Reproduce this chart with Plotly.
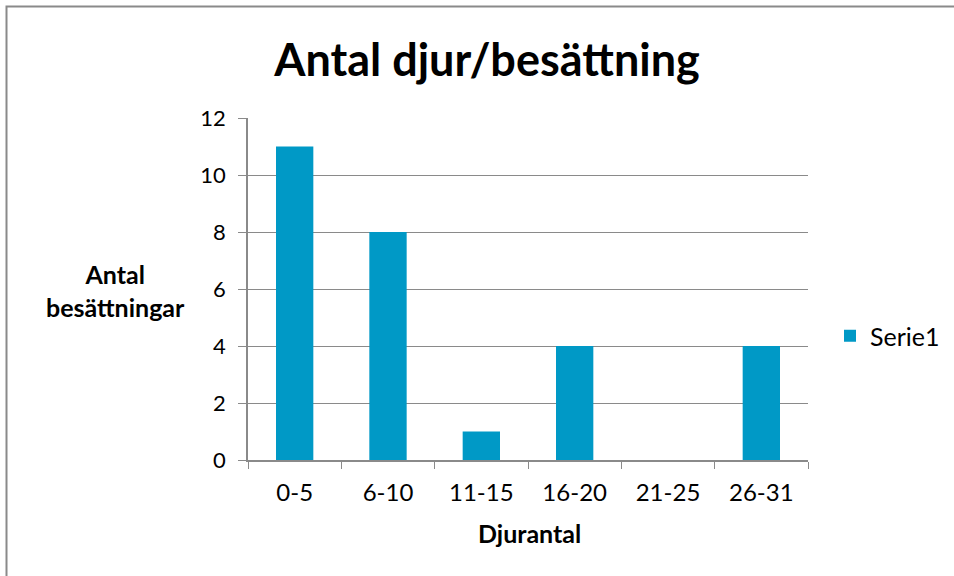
import plotly.graph_objects as go

categories = ["0-5", "6-10", "11-15", "16-20", "21-25", "26-31"]
values = [11, 8, 1, 4, 0, 4]
series_name = "Serie1"
title = "Antal djur/besättning"
y_title = "Antal<br>besättningar"
x_title = "Djurantal"

W, H = 954, 576
L, R, T, B = 248, 146, 118, 116
FONT = "Lato, Open Sans, sans-serif"
GRID = "#8a8a8a"

fig = go.Figure()
fig.add_trace(go.Bar(x=categories, y=values, name=series_name,
                     marker=dict(color="#0099C6", line=dict(width=0))))

pw = W - L - R
ph = H - T - B

fig.update_layout(
    width=W, height=H,
    margin=dict(l=L, r=R, t=T, b=B, autoexpand=False),
    paper_bgcolor="white", plot_bgcolor="white",
    bargap=0.6,
    font=dict(family=FONT, color="black"),
    showlegend=True,
    legend=dict(xref="container", yref="container",
                x=830 / W, y=1 - 336 / H, xanchor="left", yanchor="middle",
                font=dict(size=25, family=FONT), itemwidth=30,
                bgcolor="rgba(0,0,0,0)"),
    title=dict(text="<b>" + title + "</b>", x=487 / W, xanchor="center",
               y=1 - 60 / H, yanchor="middle", font=dict(size=45, family=FONT)),
)
fig.update_yaxes(range=[0, 12], dtick=2, showgrid=True, gridcolor=GRID, gridwidth=1.3,
                 showline=True, linecolor=GRID, linewidth=1.5,
                 ticks="outside", ticklen=8, tickcolor=GRID, tickwidth=1.3,
                 ticklabelstandoff=8,
                 tickfont=dict(size=22, family=FONT), zeroline=False, automargin=False)
fig.update_xaxes(showline=True, linecolor=GRID, linewidth=1.5,
                 ticks="outside", ticklen=7, tickcolor=GRID, tickwidth=1.3,
                 tickson="boundaries", showgrid=False, automargin=False,
                 ticklabelstandoff=10,
                 tickfont=dict(size=24, family=FONT))

fig.add_annotation(text="<b>" + y_title + "</b>", xref="paper", yref="paper",
                   x=(115 - L) / pw, y=(460 - 290) / ph, showarrow=False,
                   xanchor="center", yanchor="middle", align="center",
                   font=dict(size=25, family=FONT))
fig.add_annotation(text="<b>" + x_title + "</b>", xref="paper", yref="paper",
                   x=(529 - L) / pw, y=(460 - 533) / ph, showarrow=False,
                   xanchor="center", yanchor="middle",
                   font=dict(size=25, family=FONT))

# outer chart border (left and top visible; right/bottom run off the image)
fig.add_shape(type="rect", xref="paper", yref="paper",
              x0=(6.5 - L) / pw, x1=(W + 10 - L) / pw,
              y0=(460 - (H + 10)) / ph, y1=(460 - 6.5) / ph,
              line=dict(color="#8a8a8a", width=2), fillcolor="rgba(0,0,0,0)", layer="below")

fig.write_html("out.html", config={"displayModeBar": False},
               post_script="document.body.style.margin='0';")
